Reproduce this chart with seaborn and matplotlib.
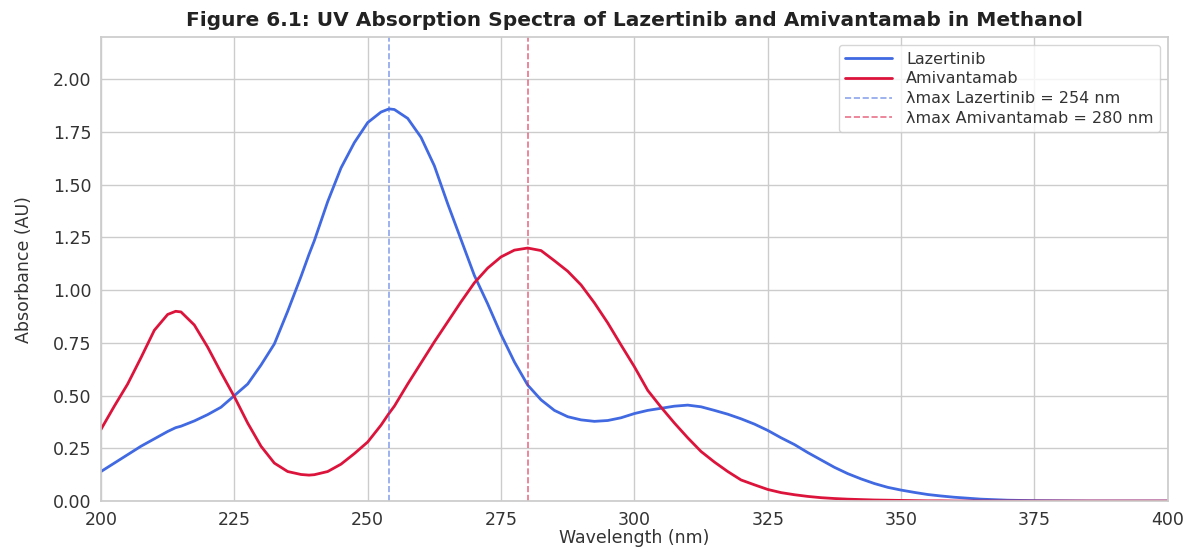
import matplotlib
matplotlib.use("Agg")
import matplotlib.pyplot as plt
import seaborn as sns
import pandas as pd

# wavelengths (nm)
wavelength = [200, 202.5, 205, 207.5, 210, 212.5, 214, 215, 217.5, 220, 222.5,
              225, 227.5, 230, 232.5, 235, 237.5, 239, 240, 242.5, 245, 247.5,
              250, 252.5, 254, 255, 257.5, 260, 262.5, 265, 267.5, 270, 272.5,
              275, 277.5, 280, 282.5, 285, 287.5, 290, 292.5, 295, 297.5,
              300, 302.5, 305, 307.5, 310, 312.5, 315, 317.5, 320, 322.5,
              325, 327.5, 330, 332.5, 335, 337.5, 340, 342.5, 345, 347.5,
              350, 352.5, 355, 357.5, 360, 365, 370, 375, 380, 385,
              390, 395, 400]

lazertinib = [0.14, 0.18, 0.22, 0.26, 0.295, 0.33, 0.348, 0.355, 0.38, 0.41, 0.445,
              0.50, 0.555, 0.645, 0.745, 0.90, 1.065, 1.17, 1.235, 1.42, 1.58, 1.70,
              1.795, 1.845, 1.86, 1.857, 1.815, 1.725, 1.59, 1.41, 1.24, 1.07, 0.935,
              0.79, 0.66, 0.55, 0.48, 0.43, 0.40, 0.385, 0.378, 0.382, 0.395,
              0.415, 0.43, 0.44, 0.45, 0.455, 0.447, 0.43, 0.412, 0.39, 0.365,
              0.335, 0.30, 0.268, 0.23, 0.195, 0.16, 0.13, 0.105, 0.083, 0.065,
              0.052, 0.041, 0.031, 0.024, 0.018, 0.009, 0.004, 0.002, 0.001, 0.0,
              0.0, 0.0, 0.0]

amivantamab = [0.34, 0.45, 0.555, 0.68, 0.81, 0.885, 0.90, 0.897, 0.835, 0.73, 0.61,
               0.495, 0.37, 0.26, 0.18, 0.14, 0.126, 0.123, 0.125, 0.14, 0.175, 0.225,
               0.28, 0.36, 0.416, 0.45, 0.555, 0.655, 0.755, 0.85, 0.945, 1.035, 1.105,
               1.158, 1.19, 1.20, 1.188, 1.14, 1.09, 1.025, 0.94, 0.845, 0.74,
               0.637, 0.525, 0.445, 0.37, 0.30, 0.235, 0.185, 0.14, 0.10, 0.077,
               0.055, 0.04, 0.03, 0.022, 0.016, 0.012, 0.009, 0.007, 0.005, 0.004,
               0.003, 0.002, 0.001, 0.001, 0.0, 0.0, 0.0, 0.0, 0.0, 0.0,
               0.0, 0.0, 0.0]

lmax_lazertinib = 254
lmax_amivantamab = 280

df = pd.DataFrame({"Wavelength": wavelength,
                   "Lazertinib": lazertinib,
                   "Amivantamab": amivantamab})

sns.set_theme(style="whitegrid")
plt.rcParams['font.family'] = ['DejaVu Sans']

fig, ax = plt.subplots(figsize=(11.88, 5.47), dpi=100)

sns.lineplot(data=df, x="Wavelength", y="Lazertinib", ax=ax,
             color="royalblue", linewidth=2.0, label="Lazertinib")
sns.lineplot(data=df, x="Wavelength", y="Amivantamab", ax=ax,
             color="crimson", linewidth=2.0, label="Amivantamab")

ax.axvline(lmax_lazertinib, color="royalblue", linestyle="--", linewidth=1.2,
           alpha=0.6, label=f"λmax Lazertinib = {lmax_lazertinib} nm")
ax.axvline(lmax_amivantamab, color="crimson", linestyle="--", linewidth=1.2,
           alpha=0.6, label=f"λmax Amivantamab = {lmax_amivantamab} nm")

ax.set_xlim(200, 400)
ax.set_ylim(0, 2.2)
ax.set_yticks([0, 0.25, 0.5, 0.75, 1.0, 1.25, 1.5, 1.75, 2.0])
ax.set_yticklabels([f"{v:.2f}" for v in ax.get_yticks()])
ax.tick_params(axis="both", labelsize=12.5, colors="#333333", pad=1)

ax.set_xlabel("Wavelength (nm)", fontsize=12.5, color="#333333", labelpad=0)
ax.set_ylabel("Absorbance (AU)", fontsize=12.5, color="#333333", labelpad=14)
ax.set_title("Figure 6.1: UV Absorption Spectra of Lazertinib and Amivantamab in Methanol",
             fontsize=14.5, fontweight="bold", color="#222222", pad=8)

leg = ax.legend(loc="upper right", fontsize=11.5, frameon=True, borderaxespad=0.5,
                labelspacing=0.3, handlelength=2.9, handletextpad=0.9,
                borderpad=0.4)
for t in leg.get_texts():
    t.set_color("#333333")

fig.subplots_adjust(left=0.085, right=0.983, top=0.932, bottom=0.084)
fig.savefig("out.png", dpi=100)
